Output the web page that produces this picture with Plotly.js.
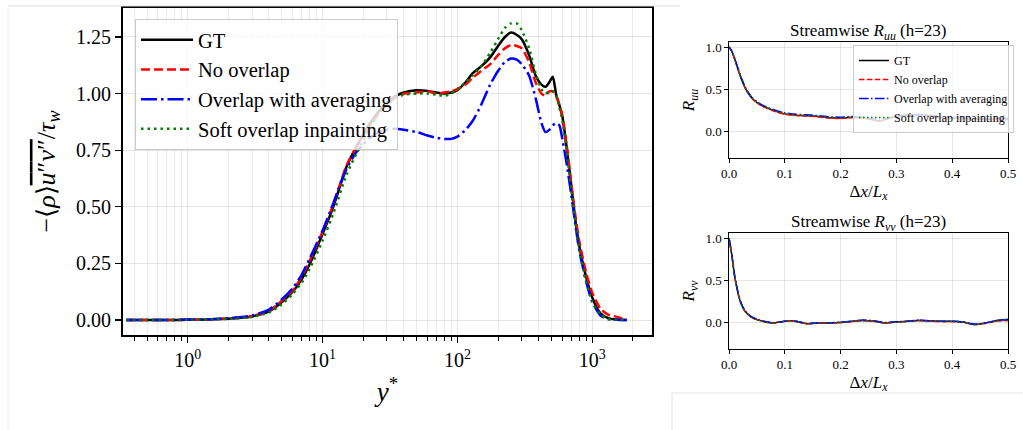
<!DOCTYPE html>
<html>
<head>
<meta charset="utf-8">
<script src="https://cdn.plot.ly/plotly-3.0.1.min.js"></script>
<style>html,body{margin:0;padding:0;background:#fff;}#chart{width:1023px;height:430px;}</style>
</head>
<body>
<div id="chart"></div>
<script>
// ---- Main panel: Reynolds shear stress vs y* ----
const ystar = [0.35, 0.5, 0.7, 1.0, 1.5, 2.0, 2.5, 3.0, 4.0, 5.0, 6.0, 7.0, 8.0, 10, 12, 15, 18, 22, 26, 30, 35, 40, 50, 60, 70, 80, 90, 100, 115, 130, 150, 175, 200, 225, 250, 275, 300, 340, 380, 420, 450, 480, 510, 540, 570, 600, 650, 700, 750, 800, 900, 1000, 1150, 1300, 1500, 1800];
const shearGT = [0, 0, 0, 0.001, 0.003, 0.006, 0.010, 0.016, 0.038, 0.080, 0.125, 0.180, 0.245, 0.380, 0.500, 0.675, 0.770, 0.860, 0.920, 0.960, 0.990, 1.005, 1.015, 1.012, 1.005, 1.000, 1.005, 1.015, 1.050, 1.090, 1.120, 1.160, 1.210, 1.250, 1.270, 1.260, 1.240, 1.170, 1.080, 1.040, 1.030, 1.050, 1.075, 0.995, 0.950, 0.900, 0.750, 0.590, 0.440, 0.330, 0.190, 0.100, 0.030, 0.010, 0.002, 0];
const shearNoOverlap = [0, 0, 0, 0.001, 0.003, 0.007, 0.011, 0.018, 0.040, 0.085, 0.130, 0.190, 0.260, 0.390, 0.510, 0.680, 0.770, 0.850, 0.910, 0.950, 0.985, 1.000, 1.005, 1.010, 1.000, 1.005, 1.010, 1.020, 1.040, 1.070, 1.100, 1.130, 1.170, 1.200, 1.215, 1.210, 1.200, 1.140, 1.050, 1.000, 0.990, 1.010, 1.010, 0.990, 0.950, 0.900, 0.760, 0.600, 0.460, 0.350, 0.210, 0.120, 0.050, 0.025, 0.015, 0.002];
const shearOverlapAvg = [0, 0, 0, 0.002, 0.004, 0.008, 0.013, 0.020, 0.046, 0.092, 0.140, 0.200, 0.270, 0.395, 0.515, 0.665, 0.745, 0.800, 0.830, 0.840, 0.845, 0.840, 0.830, 0.815, 0.805, 0.800, 0.800, 0.810, 0.840, 0.880, 0.950, 1.040, 1.100, 1.140, 1.155, 1.150, 1.130, 1.080, 0.980, 0.870, 0.830, 0.840, 0.860, 0.870, 0.860, 0.800, 0.680, 0.550, 0.420, 0.310, 0.170, 0.080, 0.020, 0.005, 0.001, 0];
const shearSoft = [0, 0, 0, 0.001, 0.003, 0.005, 0.009, 0.014, 0.033, 0.070, 0.115, 0.165, 0.225, 0.350, 0.470, 0.640, 0.740, 0.840, 0.910, 0.950, 0.980, 0.995, 1.000, 1.000, 0.995, 0.990, 1.000, 1.020, 1.050, 1.080, 1.120, 1.180, 1.240, 1.290, 1.310, 1.310, 1.280, 1.200, 1.090, 1.020, 1.000, 1.010, 1.010, 0.990, 0.940, 0.880, 0.740, 0.570, 0.430, 0.310, 0.170, 0.080, 0.025, 0.005, 0.001, 0];

// ---- Right panels: streamwise correlations ----
const dxUU = [0, 0.005, 0.01, 0.02, 0.03, 0.04, 0.05, 0.06, 0.07, 0.08, 0.10, 0.12, 0.15, 0.18, 0.20, 0.22, 0.24, 0.26, 0.27, 0.28, 0.30, 0.33, 0.36, 0.38, 0.40, 0.43, 0.46, 0.48, 0.50];
const ruuGT = [1.0, 0.95, 0.86, 0.66, 0.50, 0.40, 0.34, 0.30, 0.27, 0.245, 0.205, 0.19, 0.18, 0.16, 0.155, 0.165, 0.16, 0.13, 0.12, 0.14, 0.175, 0.19, 0.185, 0.16, 0.155, 0.15, 0.14, 0.145, 0.15];
const ruuNoOverlap = [1.0, 0.95, 0.86, 0.66, 0.50, 0.40, 0.335, 0.295, 0.265, 0.24, 0.20, 0.185, 0.175, 0.155, 0.15, 0.16, 0.155, 0.13, 0.12, 0.14, 0.17, 0.185, 0.18, 0.155, 0.15, 0.145, 0.135, 0.135, 0.135];
const ruuOverlapAvg = [1.0, 0.95, 0.87, 0.67, 0.51, 0.41, 0.35, 0.31, 0.28, 0.255, 0.22, 0.20, 0.19, 0.17, 0.165, 0.175, 0.17, 0.14, 0.13, 0.145, 0.18, 0.195, 0.19, 0.17, 0.16, 0.155, 0.15, 0.155, 0.16];
const ruuSoft = [1.0, 0.95, 0.87, 0.67, 0.51, 0.41, 0.345, 0.305, 0.275, 0.25, 0.21, 0.195, 0.185, 0.165, 0.16, 0.17, 0.165, 0.135, 0.125, 0.14, 0.175, 0.19, 0.185, 0.165, 0.155, 0.15, 0.145, 0.15, 0.15];

const dxVV = [0, 0.005, 0.01, 0.015, 0.02, 0.025, 0.03, 0.04, 0.05, 0.06, 0.07, 0.08, 0.09, 0.10, 0.11, 0.12, 0.14, 0.16, 0.18, 0.20, 0.22, 0.24, 0.26, 0.28, 0.30, 0.32, 0.34, 0.36, 0.38, 0.40, 0.42, 0.44, 0.46, 0.48, 0.50];
const rvvGT = [1.0, 0.80, 0.55, 0.38, 0.25, 0.17, 0.12, 0.06, 0.03, 0.01, -0.005, -0.01, 0.0, 0.01, 0.015, 0.01, -0.02, -0.01, -0.01, -0.005, 0.01, 0.02, 0.01, -0.01, 0.0, 0.01, 0.02, 0.015, 0.01, 0.01, 0.0, -0.03, -0.01, 0.02, 0.03];
const rvvNoOverlap = [1.0, 0.80, 0.55, 0.38, 0.25, 0.17, 0.115, 0.055, 0.03, 0.01, -0.005, -0.01, 0.0, 0.01, 0.015, 0.005, -0.02, -0.01, -0.015, -0.005, 0.005, 0.02, 0.01, -0.01, 0.0, 0.01, 0.02, 0.01, 0.005, 0.005, -0.005, -0.03, -0.015, 0.01, 0.02];
const rvvOverlapAvg = [1.0, 0.81, 0.56, 0.39, 0.26, 0.18, 0.125, 0.065, 0.035, 0.015, 0.0, -0.01, 0.0, 0.01, 0.015, 0.01, -0.015, -0.01, -0.01, 0.0, 0.01, 0.025, 0.015, -0.005, 0.005, 0.01, 0.025, 0.015, 0.01, 0.01, 0.0, -0.025, -0.01, 0.02, 0.03];
const rvvSoft = [1.0, 0.80, 0.55, 0.38, 0.25, 0.17, 0.12, 0.06, 0.03, 0.01, -0.005, -0.01, 0.0, 0.01, 0.015, 0.01, -0.02, -0.01, -0.01, -0.005, 0.01, 0.02, 0.01, -0.01, 0.0, 0.01, 0.02, 0.015, 0.01, 0.01, 0.0, -0.03, -0.01, 0.02, 0.03];

const seriesNames = ['GT', 'No overlap', 'Overlap with averaging', 'Soft overlap inpainting'];
const seriesColors = ['#000000', '#ff0000', '#0000ff', '#008000'];
const dashBig = ['solid', '9px,4px', '16px,4px,2.5px,4px', '2.5px,4px'];
const dashSmall = ['solid', '5.5px,2.4px', '9.6px,2.4px,1.5px,2.4px', '1.5px,2.5px'];

const FONT = '"Liberation Serif", "Times New Roman", serif';
const W = 1023, H = 430;
const px = v => v / W;
const py = v => 1 - v / H;

const mainY = [shearGT, shearNoOverlap, shearOverlapAvg, shearSoft];
const uuY = [ruuGT, ruuNoOverlap, ruuOverlapAvg, ruuSoft];
const vvY = [rvvGT, rvvNoOverlap, rvvOverlapAvg, rvvSoft];

const traces = [];
mainY.forEach((arr, i) => traces.push({
  x: ystar, y: arr, type: 'scatter', mode: 'lines', name: seriesNames[i],
  line: {color: seriesColors[i], width: 2.5, dash: dashBig[i], shape: 'spline', smoothing: 0.6},
  xaxis: 'x', yaxis: 'y', legend: 'legend'
}));
uuY.forEach((arr, i) => traces.push({
  x: dxUU, y: arr, type: 'scatter', mode: 'lines', name: seriesNames[i],
  line: {color: seriesColors[i], width: 1.5, dash: dashSmall[i], shape: 'spline', smoothing: 0.6},
  xaxis: 'x2', yaxis: 'y2', legend: 'legend2'
}));
vvY.forEach((arr, i) => traces.push({
  x: dxVV, y: arr, type: 'scatter', mode: 'lines', name: seriesNames[i], showlegend: false,
  line: {color: seriesColors[i], width: 1.5, dash: dashSmall[i], shape: 'spline', smoothing: 0.6},
  xaxis: 'x3', yaxis: 'y3'
}));

// minor log gridlines 2..9 per decade
const minorVals = [];
for (let d = -1; d <= 3; d++) for (let m = 2; m <= 9; m++) minorVals.push(m * Math.pow(10, d));

const gridC = 'rgba(0,0,0,0.1)';
const smallAxis = {
  showline: true, linecolor: '#000', linewidth: 1.2, mirror: true,
  ticks: 'outside', ticklen: 3.5, tickwidth: 1, tickcolor: '#000',
  showgrid: true, gridcolor: gridC, gridwidth: 1, zeroline: false,
  tickfont: {family: FONT, size: 13, color: '#000'}
};

const layout = {
  width: W, height: H, margin: {l: 0, r: 0, t: 0, b: 0},
  paper_bgcolor: '#fff', plot_bgcolor: '#fff',
  font: {family: FONT, color: '#000'},
  xaxis: {
    domain: [px(123), px(652)], type: 'log', range: [-0.48, 3.443],
    tickmode: 'array', tickvals: [1, 10, 100, 1000],
    ticktext: ['10<sup>0</sup>', '10<sup>1</sup>', '10<sup>2</sup>', '10<sup>3</sup>'],
    showline: true, linecolor: '#000', linewidth: 2, mirror: true,
    ticks: 'outside', ticklen: 6, tickwidth: 1.2, tickcolor: '#000',
    showgrid: true, gridcolor: gridC, gridwidth: 1, zeroline: false,
    minor: {tickmode: 'array', tickvals: minorVals, ticks: 'outside', ticklen: 3.5, tickwidth: 1, tickcolor: '#000', showgrid: true, gridcolor: 'rgba(0,0,0,0.08)', gridwidth: 1},
    tickfont: {family: FONT, size: 20, color: '#000'},
    title: {text: '<i>y</i><sup>*</sup>', font: {family: FONT, size: 27, color: '#000'}, standoff: 12},
    anchor: 'y'
  },
  yaxis: {
    domain: [py(335), py(8)], range: [-0.066, 1.378],
    tickmode: 'linear', tick0: 0, dtick: 0.25, tickformat: '.2f',
    showline: true, linecolor: '#000', linewidth: 2, mirror: true,
    ticks: 'outside', ticklen: 6, tickwidth: 1.2, tickcolor: '#000',
    showgrid: true, gridcolor: gridC, gridwidth: 1, zeroline: false,
    tickfont: {family: FONT, size: 20, color: '#000'},
    title: {text: '−⟨<i>ρ</i>⟩<span style="text-decoration:overline"><i>u</i>″<i>v</i>″</span>/<i>τ</i><sub><i>w</i></sub>', font: {family: FONT, size: 26, color: '#000'}, standoff: 13},
    anchor: 'x'
  },
  xaxis2: Object.assign({}, smallAxis, {
    domain: [px(729), px(1008)], range: [0, 0.5], dtick: 0.1, tickformat: '.1f', anchor: 'y2',
    title: {text: 'Δ<i>x</i>/<i>L<sub>x</sub></i>', font: {family: FONT, size: 17, color: '#000'}, standoff: 4}
  }),
  yaxis2: Object.assign({}, smallAxis, {
    domain: [py(158), py(42)], range: [-0.32, 1.06], dtick: 0.5, tickformat: '.1f', anchor: 'x2',
    title: {text: '<i>R<sub>uu</sub></i>', font: {family: FONT, size: 17, color: '#000'}, standoff: 6}
  }),
  xaxis3: Object.assign({}, smallAxis, {
    domain: [px(729), px(1008)], range: [0, 0.5], dtick: 0.1, tickformat: '.1f', anchor: 'y3',
    title: {text: 'Δ<i>x</i>/<i>L<sub>x</sub></i>', font: {family: FONT, size: 17, color: '#000'}, standoff: 4}
  }),
  yaxis3: Object.assign({}, smallAxis, {
    domain: [py(349), py(233)], range: [-0.32, 1.06], dtick: 0.5, tickformat: '.1f', anchor: 'x3',
    title: {text: '<i>R<sub>vv</sub></i>', font: {family: FONT, size: 17, color: '#000'}, standoff: 6}
  }),
  legend: {
    x: px(135), y: py(19), xanchor: 'left', yanchor: 'top',
    bgcolor: 'rgba(255,255,255,0.8)', bordercolor: '#cccccc', borderwidth: 1,
    font: {family: FONT, size: 20.5, color: '#000'}, itemwidth: 52, tracegroupgap: 0
  },
  legend2: {
    x: px(853), y: py(45), xanchor: 'left', yanchor: 'top',
    bgcolor: 'rgba(255,255,255,0.8)', bordercolor: '#cccccc', borderwidth: 1,
    font: {family: FONT, size: 12, color: '#000'}, itemwidth: 30, tracegroupgap: 0
  },
  annotations: [
    {text: 'Streamwise <i>R<sub>uu</sub></i> (h=23)', xref: 'paper', yref: 'paper', x: px(868), y: py(32), xanchor: 'center', yanchor: 'middle', showarrow: false, font: {family: FONT, size: 17, color: '#000'}},
    {text: 'Streamwise <i>R<sub>vv</sub></i> (h=23)', xref: 'paper', yref: 'paper', x: px(868), y: py(223), xanchor: 'center', yanchor: 'middle', showarrow: false, font: {family: FONT, size: 17, color: '#000'}}
  ],
  shapes: [
    {type: 'line', xref: 'paper', yref: 'paper', x0: px(8), x1: px(680), y0: py(6), y1: py(6), line: {color: '#dddddd', width: 1}},
    {type: 'line', xref: 'paper', yref: 'paper', x0: px(8), x1: px(8), y0: py(6), y1: 0, line: {color: '#eeeeee', width: 1}},
    {type: 'line', xref: 'paper', yref: 'paper', x0: px(672), x1: 1, y0: py(393), y1: py(393), line: {color: '#e3e3e3', width: 1}},
    {type: 'line', xref: 'paper', yref: 'paper', x0: px(672), x1: px(672), y0: py(393), y1: 0, line: {color: '#e3e3e3', width: 1}}
  ]
};

Plotly.newPlot('chart', traces, layout, {displayModeBar: false, staticPlot: true});
</script>
</body>
</html>
